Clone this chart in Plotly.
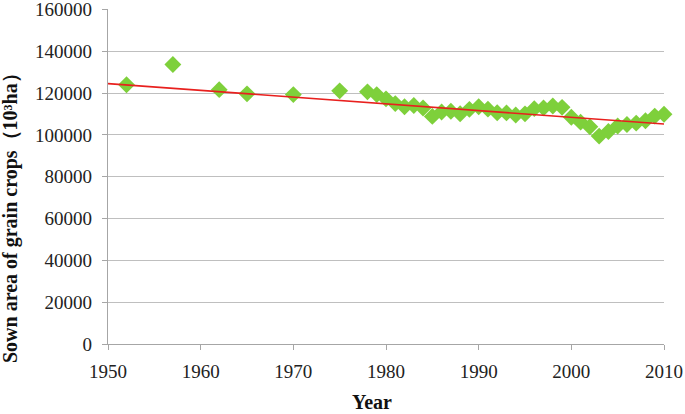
import plotly.graph_objects as go

years = [1952, 1957, 1962, 1965, 1970, 1975, 1978, 1979, 1980, 1981, 1982, 1983, 1984,
         1985, 1986, 1987, 1988, 1989, 1990, 1991, 1992, 1993, 1994, 1995, 1996, 1997,
         1998, 1999, 2000, 2001, 2002, 2003, 2004, 2005, 2006, 2007, 2008, 2009, 2010]
sown_area = [123979, 133633, 121621, 119627, 119267, 121062, 120587, 119263, 117234,
             114958, 113463, 114047, 112884, 108845, 110933, 111268, 110123, 112205,
             113466, 112314, 110560, 110509, 109544, 110060, 112548, 112912, 113787,
             113161, 108463, 106080, 103891, 99410, 101606, 104278, 104958, 105638,
             106793, 108986, 109876]

trend_years = [1950, 2010]
trend_values = [124500, 105200]

x_ticks = [1950, 1960, 1970, 1980, 1990, 2000, 2010]
y_ticks = [0, 20000, 40000, 60000, 80000, 100000, 120000, 140000, 160000]

fig = go.Figure()
fig.add_trace(go.Scatter(
    x=years, y=sown_area, mode="markers",
    marker=dict(symbol="diamond", size=13, color="#7ED03B", line=dict(width=0)),
    showlegend=False, cliponaxis=False,
))
fig.add_trace(go.Scatter(
    x=trend_years, y=trend_values, mode="lines",
    line=dict(color="#E8201E", width=1.6),
    showlegend=False,
))

font_family = "Liberation Serif, Times New Roman, serif"
tick_font = dict(family=font_family, size=19, color="#222222")
fig.update_layout(
    width=685, height=414,
    margin=dict(l=108, r=21, t=9, b=70),
    paper_bgcolor="white", plot_bgcolor="white",
    font=dict(family=font_family, size=19, color="#222222"),
    xaxis=dict(
        range=[1950, 2010], tickvals=x_ticks, ticktext=[str(v) for v in x_ticks],
        showgrid=False, zeroline=False, automargin=False,
        showline=True, linecolor="#A6A6A6", linewidth=1.3,
        ticks="outside", ticklen=5, tickcolor="#A6A6A6", tickwidth=1.3,
        tickfont=tick_font, ticklabelstandoff=5, ticklabeloverflow="allow",
    ),
    yaxis=dict(
        range=[0, 160200], tickvals=y_ticks, ticktext=[str(v) for v in y_ticks],
        showgrid=True, gridcolor="#BFBFBF", gridwidth=1.3, zeroline=False, automargin=False,
        showline=True, linecolor="#A6A6A6", linewidth=1.3,
        ticks="outside", ticklen=5, tickcolor="#A6A6A6", tickwidth=1.3,
        tickfont=tick_font, ticklabelstandoff=6, ticklabeloverflow="allow",
    ),
    annotations=[
        dict(text="<b>Year</b>", xref="paper", yref="paper", x=0.475, y=-0.172,
             xanchor="center", yanchor="middle", showarrow=False,
             font=dict(family=font_family, size=20, color="#111111")),
        dict(text="<b>Sown area of grain crops（10³ha）</b>", xref="paper", yref="paper",
             x=-0.175, y=0.39, xanchor="center", yanchor="middle", showarrow=False,
             textangle=-90, font=dict(family=font_family, size=20, color="#111111")),
    ],
)

fig.write_html("out.html", config={"displayModeBar": False},
               post_script="document.body.style.margin='0';document.body.style.padding='0';")
